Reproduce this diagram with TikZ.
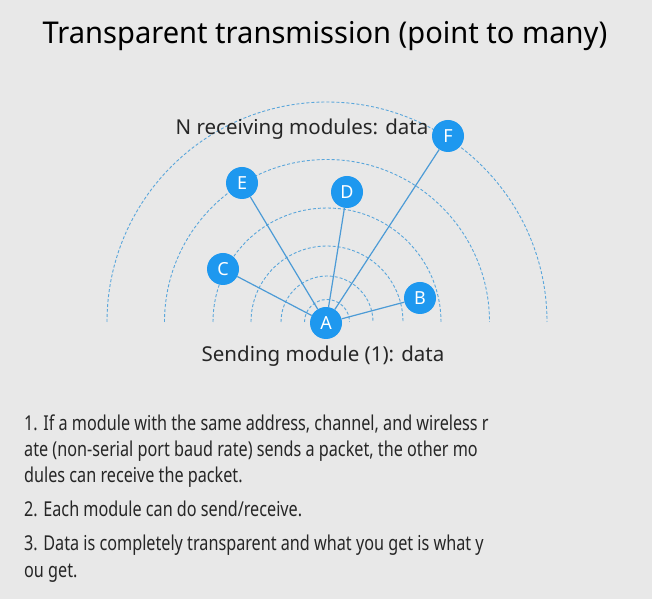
\documentclass[tikz,border=0pt]{standalone}
\usepackage{fontspec}
\setmainfont{Noto Sans}
\newfontfamily\notefont[FakeStretch=0.79]{Noto Sans}
\usepackage{tikz}

\definecolor{bg}{HTML}{E8E8E8}
\definecolor{modblue}{HTML}{1E98EF}
\definecolor{linkblue}{HTML}{4C9BD6}
\definecolor{waveblue}{HTML}{5AA6DB}

\tikzset{
  module/.style={circle, fill=modblue, text=white, minimum size=32pt, inner sep=0pt, font=\fontsize{18}{18}\selectfont},
  link/.style={linkblue, line width=1.2pt},
  wave/.style={waveblue, line width=0.9pt, dash pattern=on 3pt off 2pt},
  label/.style={anchor=base, font=\fontsize{20.5}{21}\selectfont, text=black!85},
  note/.style={anchor=base west, inner sep=0pt, font=\notefont\fontsize{20.5}{26}\selectfont, text=black!85}
}

\begin{document}
\begin{tikzpicture}[x=1pt, y=1pt]
        \fill[bg] (0,0) rectangle (652,599);
        \useasboundingbox (0,0) rectangle (652,599);
        % Title
        \node[anchor=base, font=\fontsize{30}{30}\selectfont\addfontfeature{FakeStretch=0.97}] (title) at (325,555.5) {Transparent transmission (point to many)};
        % Waves
        \coordinate (o) at (327,277);
        \foreach \r in {22.5,46,76,114,162.5,220}
          \draw[wave] ([xshift=-\r pt]o) arc[start angle=180, end angle=0, radius=\r pt];
        % Modules
        \node[module] (A) at (326,276) {A};
        \node[module] (B) at (420,301) {B};
        \node[module] (C) at (223,330) {C};
        \node[module] (D) at (347,407) {D};
        \node[module] (E) at (242,416) {E};
        \node[module] (F) at (448,463) {F};
        \foreach \m in {B,C,D,E,F}
          \draw[link] (A) -- (\m);
        % Labels
        \node[label] (recv) at (302,464) {N receiving modules: data};
        \node[label] (send) at (323,237) {Sending module (1): data};
        % Notes
        \foreach \y/\t [count=\i] in {168/{1. If a module with the same address, channel, and wireless r},
            142/{ate (non-serial port baud rate) sends a packet, the other mo},
            116/{dules can receive the packet.},
            82/{2. Each module can do send/receive.},
            49/{3. Data is completely transparent and what you get is what y},
            22/{ou get.}}
          \node[note] (line\i) at (24,\y) {\t};
\end{tikzpicture}
\end{document}
